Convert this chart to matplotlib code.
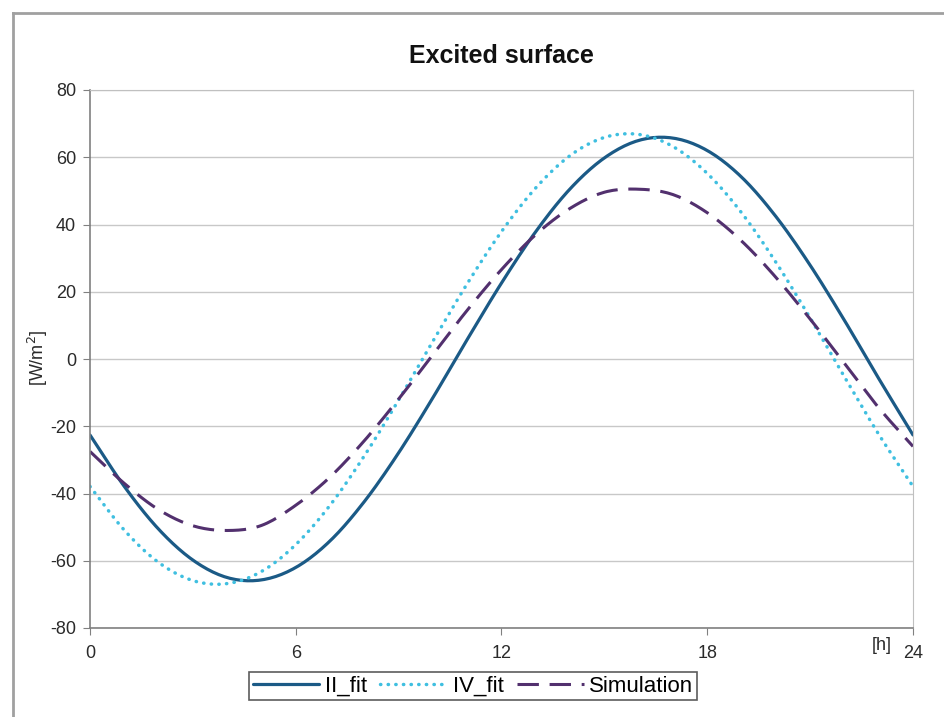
import matplotlib
matplotlib.use("Agg")
import matplotlib.pyplot as plt
import numpy as np
from matplotlib.lines import Line2D

hours = list(range(0, 25))
ii_fit = [-22.6, -37.9, -50.6, -59.8, -65.0, -65.7, -62.0, -54.1, -42.4, -27.9, -11.5, 5.8,
          22.6, 37.9, 50.6, 59.8, 65.0, 65.7, 62.0, 54.1, 42.4, 27.9, 11.5, -5.8, -22.6]
iv_fit = [-37.9, -50.9, -60.5, -65.9, -66.8, -63.2, -55.2, -43.5, -28.8, -12.2, 5.3, 22.4,
          37.9, 50.9, 60.5, 65.9, 66.8, 63.2, 55.2, 43.5, 28.8, 12.2, -5.3, -22.4, -37.9]
simulation = [-27.5, -37.0, -44.8, -49.6, -51.0, -49.5, -43.5, -35.1, -24.3, -11.9, 1.3, 14.5,
              26.6, 37.0, 44.8, 49.6, 50.5, 48.9, 43.5, 35.1, 24.3, 11.9, -1.3, -14.5, -26.0]

x_ticks = [0, 6, 12, 18, 24]
y_ticks = [-80, -60, -40, -20, 0, 20, 40, 60, 80]

plt.rcParams['font.family'] = ['Liberation Sans', 'DejaVu Sans']
plt.rcParams['axes.unicode_minus'] = False


def smooth(xs, ys, n=12):
    """Catmull-Rom smoothing for drawing (like a spreadsheet 'smoothed line')."""
    xs = np.asarray(xs, float)
    ys = np.asarray(ys, float)
    px = np.concatenate([[2 * xs[0] - xs[1]], xs, [2 * xs[-1] - xs[-2]]])
    py = np.concatenate([[2 * ys[0] - ys[1]], ys, [2 * ys[-1] - ys[-2]]])
    ox, oy = [], []
    t = np.linspace(0, 1, n, endpoint=False)
    for i in range(1, len(px) - 2):
        for arr, out in ((px, ox), (py, oy)):
            p0, p1, p2, p3 = arr[i - 1], arr[i], arr[i + 1], arr[i + 2]
            out.extend(0.5 * ((2 * p1) + (-p0 + p2) * t + (2 * p0 - 5 * p1 + 4 * p2 - p3) * t ** 2
                              + (-p0 + 3 * p1 - 3 * p2 + p3) * t ** 3))
    ox.append(xs[-1])
    oy.append(ys[-1])
    return ox, oy


W, H = 944, 717
fig = plt.figure(figsize=(W / 100, H / 100), dpi=100)
ax = fig.add_axes([90 / W, 1 - 628 / H, (913 - 90) / W, (628 - 90) / H])

# outer chart border (top and left)
fig.add_artist(Line2D([13 / W, 13 / W], [0, 1 - 13 / H], transform=fig.transFigure,
                      color='#a0a0a0', lw=2))
fig.add_artist(Line2D([13 / W, 1], [1 - 13 / H, 1 - 13 / H], transform=fig.transFigure,
                      color='#a0a0a0', lw=2))

c_ii = '#1b5a86'
c_iv = '#3fbfe0'
c_sim = '#52306e'

sx, sy = smooth(hours, ii_fit)
ax.plot(sx, sy, color=c_ii, lw=2.3, label='II_fit', solid_capstyle='round')
sx, sy = smooth(hours, iv_fit)
ax.plot(sx, sy, color=c_iv, lw=2.5, ls=(0, (0.1, 2.1)), dash_capstyle='round', label='IV_fit')
sx, sy = smooth(hours, simulation)
ax.plot(sx, sy, color=c_sim, lw=2.2, ls=(0, (7, 3.5)), label='Simulation')

ax.set_xlim(0, 24)
ax.set_ylim(-80, 80)
ax.set_xticks(x_ticks)
ax.set_yticks(y_ticks)
ax.set_xticklabels([str(v) for v in x_ticks])
ax.yaxis.grid(True, color='#c8c8c8', lw=1)
ax.set_axisbelow(True)
for s in ['top', 'right']:
    ax.spines[s].set_color('#c0c0c0')
for s in ['left', 'bottom']:
    ax.spines[s].set_color('#808080')
    ax.spines[s].set_linewidth(1.2)
ax.tick_params(axis='both', direction='out', length=5, color='#808080', labelsize=13,
               labelcolor='#2a2a2a')
ax.tick_params(axis='x', pad=7)
ax.tick_params(axis='y', pad=5)

fig.text(872 / W, 1 - 645 / H, '[h]', fontsize=13, color='#2a2a2a', va='center', ha='left')

fig.text(38 / W, 1 - 358 / H, '[W/m$^2$]', rotation=90, fontsize=13, color='#2a2a2a',
         va='center', ha='center')
fig.text(501 / W, 1 - 56 / H, 'Excited surface', fontsize=18, fontweight='bold',
         color='#111111', ha='center', va='center')

leg = fig.legend(loc='center', bbox_to_anchor=(473 / W, 1 - 686 / H), ncol=3,
                 frameon=True, fancybox=False, edgecolor='#333333', fontsize=16,
                 handlelength=3.0, handletextpad=0.25, columnspacing=0.6,
                 borderpad=0.15, borderaxespad=0)
leg.get_frame().set_linewidth(1.2)

fig.savefig('out.png', dpi=100)
